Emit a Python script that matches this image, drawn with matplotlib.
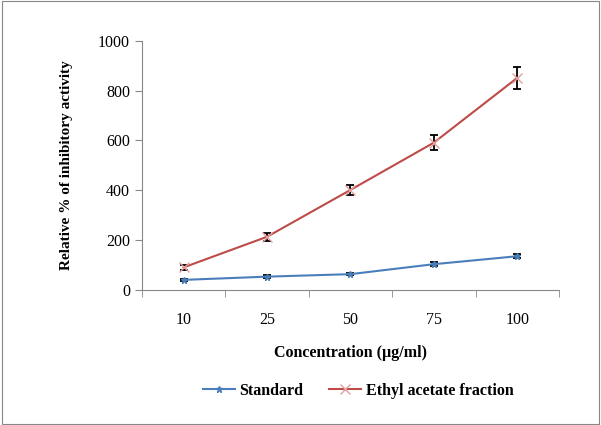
import matplotlib.pyplot as plt
from matplotlib.lines import Line2D
import numpy as np

conc = ['10', '25', '50', '75', '100']
standard = [40, 53, 63, 103, 135]
standard_err = [5, 5, 5, 7, 9]
ethyl = [90, 213, 401, 591, 851]
ethyl_err = [9, 15, 22, 31, 43]

plt.rcParams['font.family'] = ['Liberation Serif', 'DejaVu Serif']

fig = plt.figure(figsize=(6.01, 4.25), dpi=100)
fig.patches.append(plt.Rectangle((0.003, 0.003), 0.994, 0.994, transform=fig.transFigure,
                                 fill=False, edgecolor='#888888', linewidth=0.8))
ax = fig.add_axes([0.236, 0.318, 0.694, 0.586])

blue = '#4a7ebb'
red = '#be4b48'
x = np.arange(len(conc))
ax.errorbar(x, standard, yerr=standard_err, color=blue, marker='*', markersize=5,
            linewidth=1.5, ecolor='black', elinewidth=1.3, capsize=3, capthick=1.3)
ax.errorbar(x, ethyl, yerr=ethyl_err, color=red, marker='x', markersize=7,
            markeredgecolor='#e3a09e', linewidth=1.5, ecolor='black', elinewidth=1.3,
            capsize=3, capthick=1.3)

ax.set_xlim(-0.5, len(conc) - 0.5)
ax.set_ylim(0, 1000)
ax.set_yticks(np.arange(0, 1001, 200))
ax.set_xticks(x)
ax.set_xticklabels(conc)
ax.set_xticks(np.arange(-0.5, len(conc), 1), minor=True)
ax.tick_params(axis='x', which='major', length=0, pad=16, labelsize=11.5)
ax.tick_params(axis='x', which='minor', length=5, color='#888888')
ax.tick_params(axis='y', length=5, color='#888888', labelsize=11.5)
for s in ['top', 'right']:
    ax.spines[s].set_visible(False)
for s in ['left', 'bottom']:
    ax.spines[s].set_color('#888888')

ax.set_xlabel('Concentration (\u00b5g/ml)', fontsize=11.5, fontweight='bold', labelpad=12)
ax.set_ylabel('Relative % of inhibitory activity', fontsize=11, fontweight='bold', labelpad=18)

handles = [Line2D([], [], color=blue, marker='*', markersize=5, linewidth=1.5),
           Line2D([], [], color=red, marker='x', markersize=7,
                  markeredgecolor='#e3a09e', linewidth=1.5)]
fig.legend(handles, ['Standard', 'Ethyl acetate fraction'], loc='center',
           bbox_to_anchor=(0.596, 0.08), ncol=2, frameon=False,
           prop={'size': 11.5, 'weight': 'bold'}, handlelength=2.0, handletextpad=0.3,
           columnspacing=1.6)

fig.savefig('out.png', dpi=100)
